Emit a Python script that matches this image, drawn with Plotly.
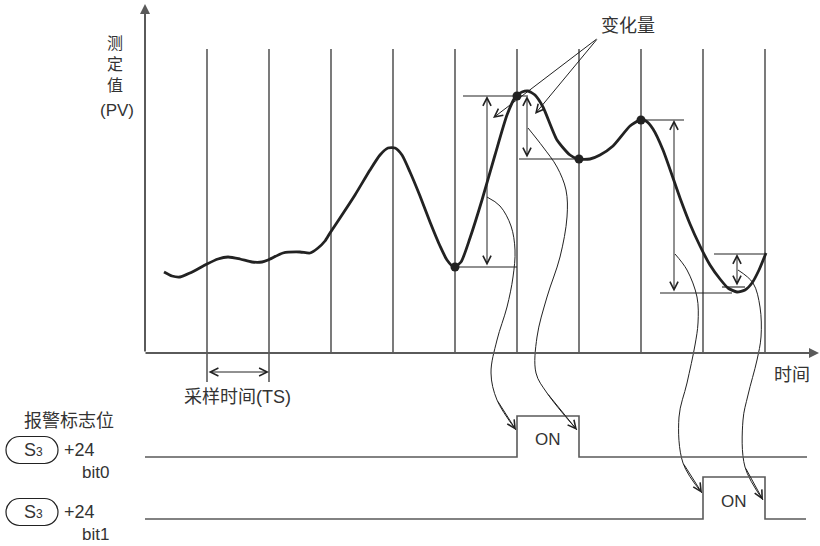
import plotly.graph_objects as go

# ----------------------------
# Dados (tempo em unidades onde TS = 62, PV em unidades arbitrárias)
# ----------------------------
TS = 62
n_samples = 10
sample_ticks = [TS * k for k in range(1, n_samples + 1)]

curve_t = [19, 27, 35, 45, 62, 73, 83, 95, 107, 117, 123, 138, 155, 165, 173, 180, 185,
           195, 210, 225, 235, 243, 250, 257, 265, 275, 285, 295, 302, 309, 316, 325,
           337, 350, 362, 371, 377, 383, 390, 398, 412, 425, 433, 445, 455, 468, 485,
           495, 501, 508, 518, 535, 545, 555, 565, 575, 583, 592, 600, 607, 614, 621]
curve_pv = [81, 77, 76, 80, 89, 94, 96, 94, 91, 91, 93, 100, 101, 100, 105, 112, 120,
            135, 158, 183, 198, 205, 205, 198, 181, 157, 131, 107, 93, 86, 91, 115,
            153, 198, 238, 257, 261, 262, 258, 246, 213, 198, 194, 194, 198, 207, 227,
            233, 232, 224, 203, 155, 129, 107, 88, 74, 65, 61, 63, 70, 83, 100]

# valores amostrados (pontos)
dot_t = [310, 372, 434, 496]
dot_pv = [86, 257, 194, 233]

# variação medida: seta em t, de pv_from até pv_to
delta_t = [342, 382, 529, 592]
delta_from = [86, 194, 60, 66]
delta_to = [257, 257, 233, 99]
# linhas horizontais de referência
ref_pv = [257, 86, 194, 233, 60, 99, 66]
ref_t0 = [318, 310, 374, 495, 515, 569, 577]
ref_t1 = [383, 372, 433, 539, 587, 619, 600]

# bits de alarme
bit0_t = [0, 372, 434, 662]
bit0_on = [0, 1, 0, 0]
bit1_t = [0, 558, 620, 661]
bit1_on = [0, 1, 0, 0]
bit0_low, bit0_high = -104, -63
bit1_low, bit1_high = -166, -124

# setas curvas (variação -> bit)
link_a = ([342, 355, 366, 370, 368, 362, 352, 346, 352, 371],
          [156, 147, 127, 103, 76, 46, 13, -20, -47, -77])
link_b = ([383, 398, 412, 421, 422, 415, 402, 392, 391, 402, 432],
          [225, 206, 186, 163, 136, 96, 56, 16, -20, -40, -77])
link_c = ([530, 542, 552, 553, 550, 542, 534, 538, 557],
          [99, 83, 56, 30, 8, -30, -64, -110, -140])
link_d = ([593, 608, 615, 616, 612, 603, 598, 600, 618],
          [83, 70, 46, 16, -7, -42, -67, -114, -147])

INK = "#222222"
GRID = "#333333"
AX = "#5a5a5a"
TXT = "#333333"
FONT = "Liberation Sans, Arial, Noto Sans CJK SC"

fig = go.Figure()

# linhas de amostragem
for i, t in enumerate(sample_ticks):
    bottom = -29 if i < 2 else 0
    fig.add_trace(go.Scatter(x=[t, t], y=[bottom, 304], mode="lines",
                             line=dict(color=GRID, width=1.3), hoverinfo="skip"))

# linhas de referência
for pv, t0, t1 in zip(ref_pv, ref_t0, ref_t1):
    fig.add_trace(go.Scatter(x=[t0, t1], y=[pv, pv], mode="lines",
                             line=dict(color=INK, width=1.1), hoverinfo="skip"))

# curva PV
fig.add_trace(go.Scatter(x=curve_t, y=curve_pv, mode="lines",
                         line=dict(color=INK, width=2.8, shape="spline", smoothing=0.6),
                         hoverinfo="skip"))
fig.add_trace(go.Scatter(x=dot_t, y=dot_pv, mode="markers",
                         marker=dict(color=INK, size=9), hoverinfo="skip"))

# setas curvas
for xs, ys in [link_a, link_b, link_c, link_d]:
    fig.add_trace(go.Scatter(x=xs, y=ys, mode="lines",
                             line=dict(color=INK, width=1, shape="spline", smoothing=1),
                             hoverinfo="skip"))
    fig.add_annotation(x=xs[-1], y=ys[-1], ax=xs[-2], ay=ys[-2], axref="x", ayref="y",
                       showarrow=True, arrowhead=5, arrowsize=1.6, arrowwidth=1,
                       arrowcolor=INK, text="", standoff=0)

# sinais de alarme
fig.add_trace(go.Scatter(x=bit0_t, y=[bit0_high if b else bit0_low for b in bit0_on],
                         mode="lines", line=dict(color=AX, width=1.6, shape="hv"),
                         hoverinfo="skip"))
fig.add_trace(go.Scatter(x=bit1_t, y=[bit1_high if b else bit1_low for b in bit1_on],
                         mode="lines", line=dict(color=AX, width=1.6, shape="hv"),
                         hoverinfo="skip"))

# eixos (com setas)
fig.add_annotation(x=0, y=349, ax=0, ay=0, axref="x", ayref="y",
                   showarrow=True, arrowhead=2, arrowsize=1, arrowwidth=2,
                   arrowcolor=AX, text="", standoff=0)
fig.add_annotation(x=674, y=0, ax=-1, ay=0, axref="x", ayref="y",
                   showarrow=True, arrowhead=2, arrowsize=1, arrowwidth=2,
                   arrowcolor=AX, text="", standoff=0)

# setas duplas de variação
for t, a, b in zip(delta_t, delta_from, delta_to):
    fig.add_annotation(x=t, y=b, ax=t, ay=a, axref="x", ayref="y",
                       showarrow=True, arrowhead=5, startarrowhead=5, arrowside="end+start",
                       arrowsize=1.6, arrowwidth=1, arrowcolor=INK, text="", standoff=0,
                       startstandoff=0)

# seta do tempo de amostragem
fig.add_annotation(x=sample_ticks[1], y=-19, ax=sample_ticks[0], ay=-19, axref="x", ayref="y",
                   showarrow=True, arrowhead=5, startarrowhead=5, arrowside="end+start",
                   arrowsize=1.6, arrowwidth=1, arrowcolor=INK, text="", standoff=0,
                   startstandoff=0)

# "变化量" setas
for hx, hy in [(348, 235), (390, 239)]:
    fig.add_annotation(x=hx, y=hy, ax=453, ay=315, axref="x", ayref="y",
                       showarrow=True, arrowhead=5, arrowsize=1.6, arrowwidth=1,
                       arrowcolor=INK, text="", standoff=0)

# textos
def label(text, x, y, size=16, anchor="center"):
    fig.add_annotation(x=x, y=y, text=text, showarrow=False, xanchor=anchor,
                       yanchor="middle", font=dict(size=size, color=TXT, family=FONT))

label("测<br>定<br>值", -30, 289, 16)
label("(PV)", -28, 243, 17)
label("变化量", 483, 327, 18)
label("采样时间(TS)", 92, -44, 18)
label("时间", 647, -22, 18)
label("报警标志位", -76, -68, 18)
label("ON", 403, -86, 17)
label("ON", 589, -148, 17)

for cy, bit in [(-97, "bit0"), (-159, "bit1")]:
    x0, x1, h = -139, -87, 27
    r = h / 2
    y0, y1 = cy - r, cy + r
    k = 0.5523 * r
    path = (f"M{x0 + r},{y1} L{x1 - r},{y1} "
            f"C{x1 - r + k},{y1} {x1},{cy + k} {x1},{cy} "
            f"C{x1},{cy - k} {x1 - r + k},{y0} {x1 - r},{y0} "
            f"L{x0 + r},{y0} "
            f"C{x0 + r - k},{y0} {x0},{cy - k} {x0},{cy} "
            f"C{x0},{cy + k} {x0 + r - k},{y1} {x0 + r},{y1} Z")
    fig.add_shape(type="path", path=path, xref="x", yref="y",
                  line=dict(color=INK, width=1.2))
    label("S<span style='font-size:12px'>3</span>", -112, cy, 18)
    label("+24", -83, cy, 18, "left")
    label(bit, -34, cy - 22, 17, "right")

fig.update_layout(
    width=820, height=546,
    margin=dict(l=0, r=0, t=0, b=0),
    paper_bgcolor="white", plot_bgcolor="white",
    showlegend=False,
    xaxis=dict(range=[-145, 675], visible=False, fixedrange=True),
    yaxis=dict(range=[-193, 353], visible=False, fixedrange=True),
)

# página sem margem para o gráfico ocupar a janela inteira
fig.write_html("out.html", config={"displayModeBar": False},
               post_script="document.body.style.margin='0';")
